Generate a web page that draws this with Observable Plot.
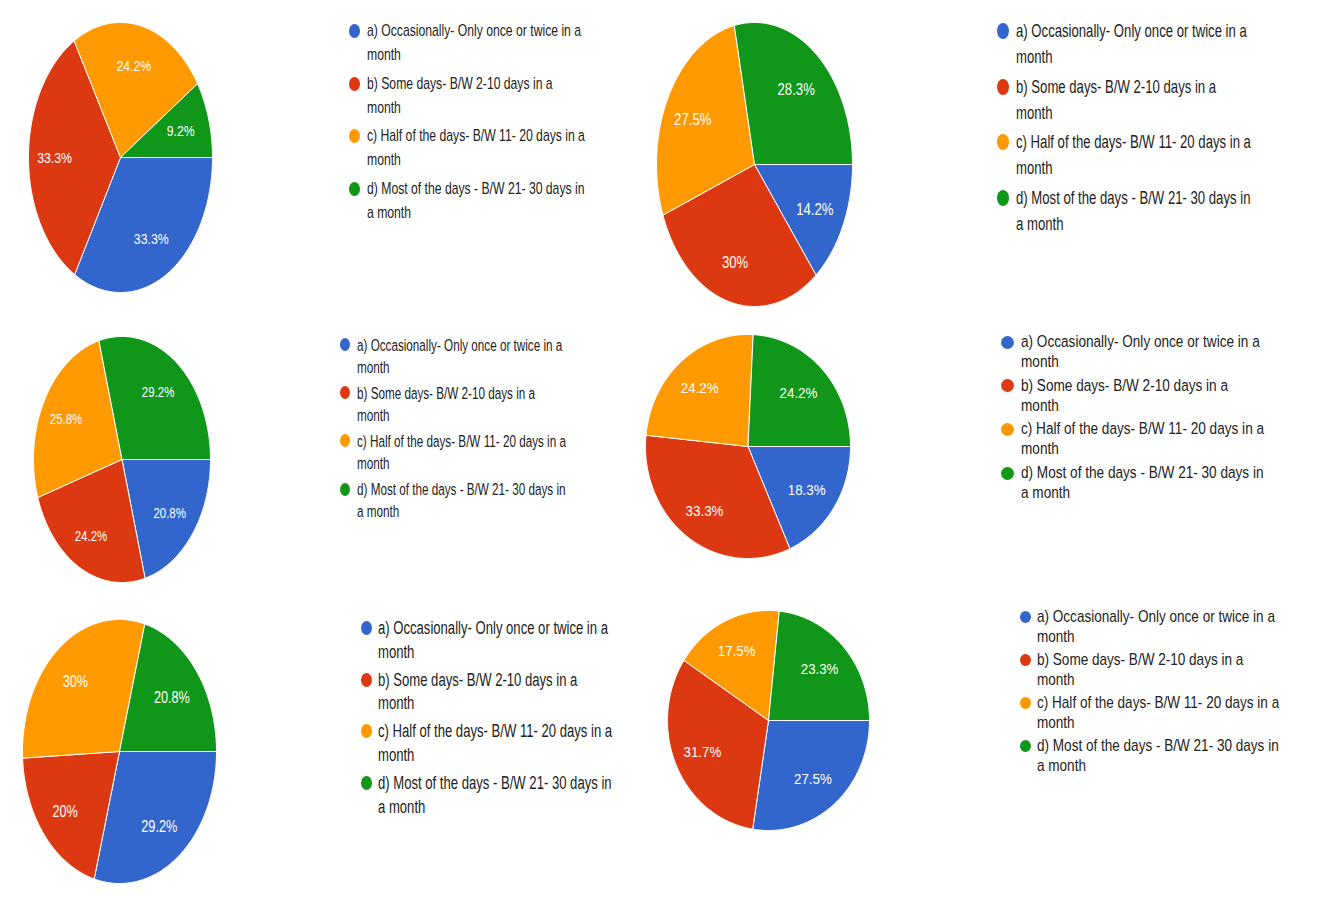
<!DOCTYPE html>
<html><head><meta charset="utf-8">
<script src="https://cdn.jsdelivr.net/npm/d3@7"></script>
<script src="https://cdn.jsdelivr.net/npm/@observablehq/plot@0.6"></script>
<style>
body{margin:0;background:#fff;}
#page{position:relative;width:1332px;height:904px;overflow:hidden;background:#fff;font-family:"Liberation Sans",Arial,sans-serif;}
.pie{position:absolute;}
.lt{position:absolute;white-space:nowrap;line-height:1;color:#222;transform-origin:left center;}
.dot{position:absolute;border-radius:50%;}
</style></head><body><div id="page"></div>
<script>
// ---- data ----
const categories = [
  "a) Occasionally- Only once or twice in a month",
  "b) Some days- B/W 2-10 days in a month",
  "c) Half of the days- B/W 11- 20 days in a month",
  "d) Most of the days - B/W 21- 30 days in a month"
];
const legendLines = [
  ["a) Occasionally- Only once or twice in a", "month"],
  ["b) Some days- B/W 2-10 days in a", "month"],
  ["c) Half of the days- B/W 11- 20 days in a", "month"],
  ["d) Most of the days - B/W 21- 30 days in", "a month"]
];
const colors = ["#3366cc", "#dc3912", "#ff9900", "#109618"];
const pie1 = [33.3, 33.3, 24.2, 9.2];
const pie2 = [14.2, 30, 27.5, 28.3];
const pie3 = [20.8, 24.2, 25.8, 29.2];
const pie4 = [18.3, 33.3, 24.2, 24.2];
const pie5 = [29.2, 20, 30, 20.8];
const pie6 = [27.5, 31.7, 17.5, 23.3];

// ---- layout (positions / styles only) ----
const panels = [
  {values: pie1, cx: 120, cy: 157, rx: 92, ry: 135, fs: 12.3, sy: 1.25, dy: 5,
   L: {dotX: 354, textX: 367, y0: 31, lg: 24, ig: 52.7, fs: 12.2, sy: 1.36, dw: 11, dh: 14}},
  {values: pie2, cx: 754, cy: 164, rx: 98, ry: 142, fs: 13.2, sy: 1.3, dy: 8,
   L: {dotX: 1003, textX: 1016, y0: 31, lg: 26, ig: 55.7, fs: 13.15, sy: 1.45, dw: 12, dh: 16}},
  {values: pie3, cx: 121, cy: 459, rx: 88.5, ry: 123, fs: 11.5, sy: 1.3, dy: 6,
   L: {dotX: 345, textX: 357, y0: 344.5, lg: 22, ig: 48.2, fs: 11.7, sy: 1.38, dw: 10, dh: 13}},
  {values: pie4, cx: 747, cy: 446, rx: 102.5, ry: 112, fs: 13.4, sy: 1.15, dy: 5.5,
   L: {dotX: 1007, textX: 1021, y0: 342, lg: 20, ig: 43.7, fs: 13.6, sy: 1.2, dw: 13, dh: 13}},
  {values: pie5, cx: 119, cy: 751, rx: 97, ry: 132, fs: 12.7, sy: 1.28, dy: 7.5,
   L: {dotX: 366, textX: 378, y0: 628, lg: 23.5, ig: 51.7, fs: 13.1, sy: 1.4, dw: 11, dh: 14}},
  {values: pie6, cx: 768, cy: 719.5, rx: 101, ry: 110, fs: 13.3, sy: 1.15, dy: 5,
   L: {dotX: 1025, textX: 1037, y0: 617, lg: 20, ig: 43, fs: 13.55, sy: 1.25, dw: 11, dh: 12}}
];

function slices(values) {
  const rows = [], labels = [];
  const total = d3.sum(values);
  let acc = 0;
  values.forEach((v, i) => {
    const a0 = Math.PI / 2 + acc / total * 2 * Math.PI;
    acc += v;
    const a1 = Math.PI / 2 + acc / total * 2 * Math.PI;
    rows.push({k: i, x: 0, y: 0});
    const n = Math.max(2, Math.ceil((a1 - a0) / (Math.PI / 180)));
    for (let j = 0; j <= n; j++) {
      const a = a0 + (a1 - a0) * j / n;
      rows.push({k: i, x: Math.sin(a), y: Math.cos(a)});
    }
    rows.push({k: i, x: 0, y: 0});
    const am = (a0 + a1) / 2;
    labels.push({k: i, x: 0.7 * Math.sin(am), y: 0.7 * Math.cos(am), text: v + "%"});
  });
  return {rows, labels};
}

const page = document.getElementById("page");

panels.forEach(p => {
  const {rows, labels} = slices(p.values);
  const m = 2;
  const svg = Plot.plot({
    width: 2 * p.rx + 2 * m,
    height: 2 * p.ry + 2 * m,
    margin: m,
    x: {domain: [-1, 1], axis: null},
    y: {domain: [-1, 1], axis: null},
    color: {type: "identity"},
    style: {fontFamily: "'Liberation Sans', Arial, sans-serif", background: "transparent", overflow: "visible"},
    marks: [
      Plot.line(rows, {x: "x", y: "y", z: "k", fill: d => colors[d.k], stroke: "white", strokeWidth: 1, strokeLinejoin: "round"}),
      Plot.text(labels, {x: "x", y: "y", text: "text", fill: "white", fontSize: p.fs, dx: -1.5, dy: p.dy})
    ]
  });
  svg.querySelectorAll("text").forEach(t => {
    let tr = t.getAttribute("transform") || "";
    if (t.hasAttribute("x") || t.hasAttribute("y")) {
      const x = +t.getAttribute("x") || 0, y = +t.getAttribute("y") || 0;
      t.removeAttribute("x"); t.removeAttribute("y");
      tr = `translate(${x},${y}) ` + tr;
    }
    t.setAttribute("transform", tr + ` scale(1,${p.sy})`);
  });
  svg.classList.add("pie");
  svg.style.position = "absolute";
  svg.style.left = (p.cx - p.rx - m) + "px";
  svg.style.top = (p.cy - p.ry - m) + "px";
  svg.style.maxWidth = "none";
  page.appendChild(svg);

  const L = p.L;
  legendLines.forEach((lines, i) => {
    const yi = L.y0 + i * L.ig;
    const dot = document.createElement("div");
    dot.className = "dot";
    dot.style.left = (L.dotX - L.dw / 2) + "px";
    dot.style.top = (yi - L.dh / 2) + "px";
    dot.style.width = L.dw + "px";
    dot.style.height = L.dh + "px";
    dot.style.background = colors[i];
    dot.title = categories[i];
    page.appendChild(dot);
    lines.forEach((t, j) => {
      const s = document.createElement("div");
      s.className = "lt";
      s.textContent = t;
      s.style.left = L.textX + "px";
      s.style.top = (yi + j * L.lg) + "px";
      s.style.fontSize = L.fs + "px";
      s.style.transform = `translateY(-50%) scaleY(${L.sy})`;
      page.appendChild(s);
    });
  });
});
</script>
</body></html>
